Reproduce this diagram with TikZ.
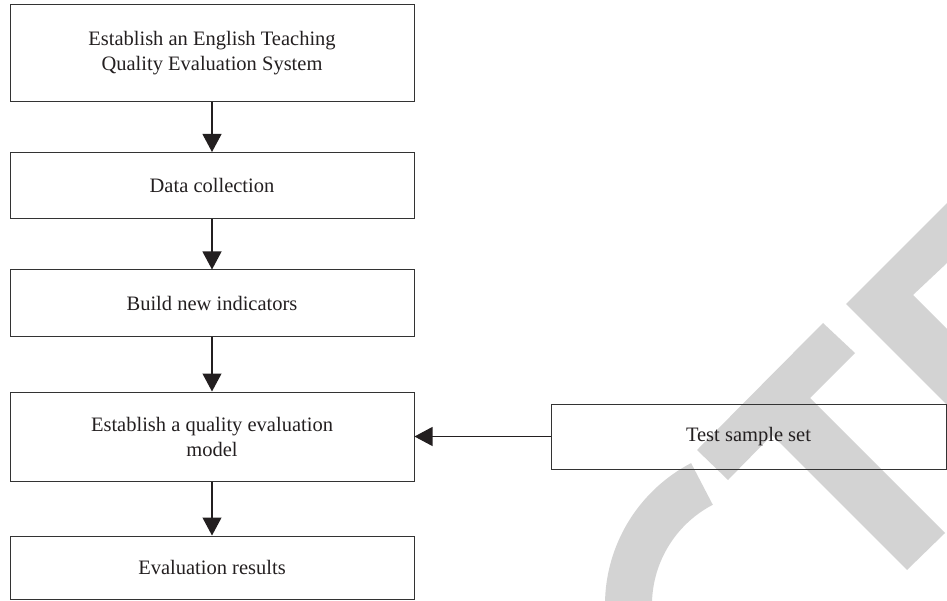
\documentclass[tikz,border=0pt]{standalone}
\usepackage{fontspec}
\setmainfont{Liberation Serif}
\usetikzlibrary{arrows.meta}
\definecolor{wm}{HTML}{D3D3D3}
\definecolor{ln}{HTML}{333333}
\definecolor{tx}{HTML}{231F20}
\begin{document}
\begin{tikzpicture}[x=1pt,y=-1pt,
  box/.style={draw=ln, line width=1pt, minimum width=404pt, align=center,
    font=\fontsize{20.5}{25}\selectfont, text=tx, inner sep=0pt},
  conn/.style={draw=tx, line width=1.1pt, -{Triangle[length=18pt,width=19pt]}}]
\useasboundingbox (0,0) rectangle (947,601);
% watermark
\begin{scope}
\clip (0,0) rectangle (947,601);
\fill[wm] (947,203) -- (846,304) -- (947,405) -- (947,329) -- (913,295) -- (947,263) -- cycle;
\fill[wm] (823,323) -- (855,353) -- (810,398) -- (945,533) -- (907,570) -- (772,435) -- (728,480) -- (697,450) -- cycle;
\fill[wm] (691.1,463.1) arc[start angle=242.5, end angle=150, radius=160] -- (667.1,661.5) arc[start angle=150, end angle=242.5, radius=113] -- cycle;
\end{scope}
% boxes
\node[box, minimum height=97pt] (b1) at (212,53.5) {Establish an English Teaching\\Quality Evaluation System};
\node[box, minimum height=66pt] (b2) at (212,185.5) {Data collection};
\node[box, minimum height=66pt] (b3) at (212,303) {Build new indicators};
\node[box, minimum height=89pt] (b4) at (212,436.5) {Establish a quality evaluation\\model};
\node[box, minimum height=63pt] (b5) at (212,567.5) {Evaluation results};
\node[box, minimum width=395pt, minimum height=65pt] (ts) at (748.5,436.5) {Test sample set};
% connectors
\draw[conn] (b1) -- (b2);
\draw[conn] (b2) -- (b3);
\draw[conn] (b3) -- (b4);
\draw[conn] (b4) -- (b5);
\draw[conn] (ts) -- (b4);
\end{tikzpicture}
\end{document}
